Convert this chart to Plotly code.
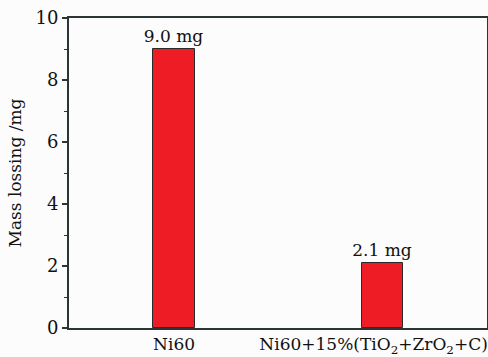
import plotly.graph_objects as go

# Mass loss of the two coatings
categories = ["Ni60", "Ni60+15%(TiO<sub>2</sub>+ZrO<sub>2</sub>+C)"]
mass_loss = [9.0, 2.1]
value_labels = ["9.0 mg", "2.1 mg"]
y_ticks = [0, 2, 4, 6, 8, 10]

FONT = "DejaVu Serif"

# bars sit at integer positions; the long second label is nudged left so it stays on the page
bar_pos = list(range(len(categories)))
label_nudge = [0.0, -0.043]
label_pos = [p + d for p, d in zip(bar_pos, label_nudge)]

fig = go.Figure(
    go.Bar(
        x=bar_pos,
        y=mass_loss,
        width=0.2,
        marker=dict(color="#ee1c25", line=dict(color="#2a2a2a", width=1)),
        text=value_labels,
        textposition="outside",
        constraintext="none",
        textfont=dict(family=FONT, size=17, color="#111"),
        cliponaxis=False,
    )
)

fig.update_layout(
    width=488,
    height=357,
    margin=dict(l=69, r=1, t=18, b=29),
    paper_bgcolor="#fcfcfc",
    plot_bgcolor="#fcfcfc",
    font=dict(family=FONT, size=17, color="#111"),
    showlegend=False,
    bargap=0,
)

fig.update_xaxes(
    range=[-0.504, 1.501],
    tickvals=label_pos,
    ticktext=categories,
    automargin=False,
    showline=True,
    linecolor="#2b3535",
    linewidth=2,
    mirror=True,
    ticks="",
    tickfont=dict(family=FONT, size=17),
    showgrid=False,
    zeroline=False,
)

fig.update_yaxes(
    range=[0, 10],
    automargin=False,
    tickvals=y_ticks,
    ticks="outside",
    ticklen=5,
    tickwidth=1.5,
    tickcolor="#2b3535",
    minor=dict(dtick=1, ticks="outside", ticklen=3, tickcolor="#2b3535", tickwidth=1),
    showline=True,
    linecolor="#2b3535",
    linewidth=2,
    mirror=True,
    showgrid=False,
    zeroline=False,
    tickfont=dict(family=FONT, size=18),
    title=dict(text="Mass lossing /mg", font=dict(family=FONT, size=17), standoff=10),
)

fig.write_html("out.html")
